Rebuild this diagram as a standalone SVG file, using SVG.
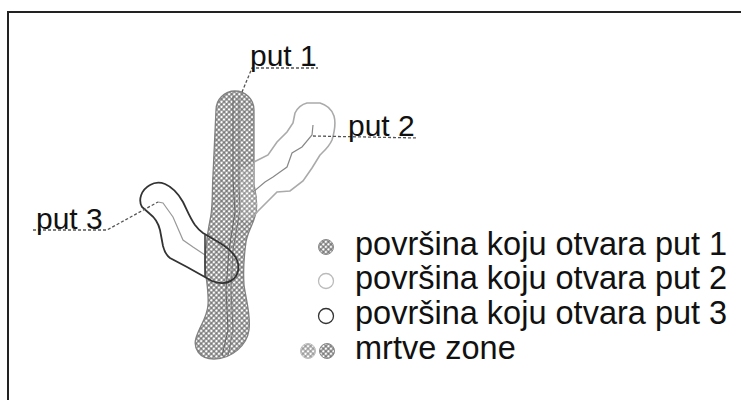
<svg xmlns="http://www.w3.org/2000/svg" width="741" height="400" viewBox="0 0 741 400">
<defs>
<pattern id="hatch" width="3.6" height="3.6" patternUnits="userSpaceOnUse" patternTransform="rotate(45)">
<rect width="3.6" height="3.6" fill="#7a7a7a"/>
<circle cx="1.8" cy="1.8" r="1.3" fill="#ffffff"/>
</pattern>
<pattern id="hatchLight" width="3.6" height="3.6" patternUnits="userSpaceOnUse" patternTransform="rotate(45)">
<rect width="3.6" height="3.6" fill="#9a9a9a"/>
<circle cx="1.8" cy="1.8" r="1.3" fill="#ffffff"/>
</pattern>
<clipPath id="clip1">
<path d="M216,110 A19,19 0 0 1 254,110 L254,185 C256,195 258,202 256,212 C254,224 248,230 246,242 C244,256 243,270 244,285 C246,300 251,315 249,330 C247,345 232,359 214,359 C199,359 193,348 196,338 C200,325 207,318 208,305 C209,292 206,280 205,265 C205,245 208,230 211,215 C213,200 212,190 213,175 Z"/>
</clipPath>
<style>
.lbl{font-family:"Liberation Sans",Arial,sans-serif;font-size:30px;fill:#111}
.leg{font-family:"Liberation Sans",Arial,sans-serif;font-size:32.5px;fill:#111}
.dash{fill:none;stroke:#555;stroke-width:1.3;stroke-dasharray:3,2}
.center{fill:none;stroke-width:1}
</style>
</defs>
<rect x="0" y="0" width="741" height="400" fill="#ffffff"/>
<rect x="8" y="12" width="740" height="400" fill="none" stroke="#222" stroke-width="2"/>

<g id="path1">
<path d="M216,110 A19,19 0 0 1 254,110 L254,185 C256,195 258,202 256,212 C254,224 248,230 246,242 C244,256 243,270 244,285 C246,300 251,315 249,330 C247,345 232,359 214,359 C199,359 193,348 196,338 C200,325 207,318 208,305 C209,292 206,280 205,265 C205,245 208,230 211,215 C213,200 212,190 213,175 Z" fill="url(#hatch)" stroke="#808080" stroke-width="1.3"/>
<g clip-path="url(#clip1)" opacity="0.7">
<path d="M255,162 L268,155 L277,142 L287,132 L293,123 L295,113 L307,105 L320,105 L330,113 L333,127 L330,143 L320,153 L312,167 L303,180 L290,190 L277,190 L268,200 L258,210 L248,222 L238,215 L240,170 Z" fill="url(#hatchLight)"/>
</g>
<polyline class="center" points="233,96 233,180 235,212 229,250 226,290 228,330 222,356" stroke="#666"/>
<polyline class="center" points="239,96 239,185 240,210 233,250 231,290 233,330 228,356" stroke="#777"/>
</g>

<g id="path2">
<path d="M254,162 L268,155 L277,142 L287,132 L293,123 L295,113 C298,107 303,104 307,103 L320,103 C327,105 332,110 334,116 C336,123 335,130 332,140 C329,147 324,151 320,155 L312,168 L303,181 L290,191 L277,192 L268,201 L258,211 L253,217" fill="none" stroke="#aaa" stroke-width="1.6"/>
<polyline points="253,192 265,182 273,177 280,172 287,167 292,153 302,147 312,135 313,125" fill="none" stroke="#888" stroke-width="1.2"/>
</g>

<g id="path3">
<path d="M142,207 C138,200 141,190 150,185 C155,182 160,182 165,184 C172,187 178,193 183,202 C187,210 190,218 195,225 C198,229 200,231 203,233 L220,243 C228,248 234,253 237,260 C240,268 238,276 232,280 C227,284 219,284 212,281 L187,267 L170,258 C166,255 164,250 163,246 L160,230 C158,222 154,217 150,214 Z" fill="none" stroke="#333" stroke-width="1.8"/>
<polyline points="158,202 163,203 173,217 183,240 193,247 205,255" fill="none" stroke="#999" stroke-width="1.2"/>
<line x1="205" y1="235" x2="205" y2="277" stroke="#333" stroke-width="1.5"/>
</g>

<g id="connectors">
<polyline class="dash" points="242,92 252,68 318,68"/>
<polyline class="dash" points="313,136 418,138"/>
<polyline class="dash" points="33,230 107,230 158,202"/>
</g>

<g id="label-put1"><text class="lbl" x="250" y="66">put 1</text></g>
<g id="label-put2"><text class="lbl" x="348" y="136">put 2</text></g>
<g id="label-put3"><text class="lbl" x="36" y="229">put 3</text></g>

<g id="legend">
<circle cx="326" cy="247" r="7.5" fill="url(#hatch)" stroke="#888" stroke-width="1"/>
<text class="leg" x="355" y="255">površina koju otvara put 1</text>
<circle cx="326" cy="281" r="7.5" fill="#fff" stroke="#bbb" stroke-width="1.3"/>
<text class="leg" x="355" y="289">površina koju otvara put 2</text>
<circle cx="326" cy="316" r="7.5" fill="#fff" stroke="#333" stroke-width="1.3"/>
<text class="leg" x="355" y="324">površina koju otvara put 3</text>
<circle cx="308" cy="351" r="7.5" fill="url(#hatchLight)" stroke="#bbb" stroke-width="1"/>
<circle cx="327" cy="351" r="7.5" fill="url(#hatch)" stroke="#888" stroke-width="1"/>
<text class="leg" x="355" y="359">mrtve zone</text>
</g>
</svg>
